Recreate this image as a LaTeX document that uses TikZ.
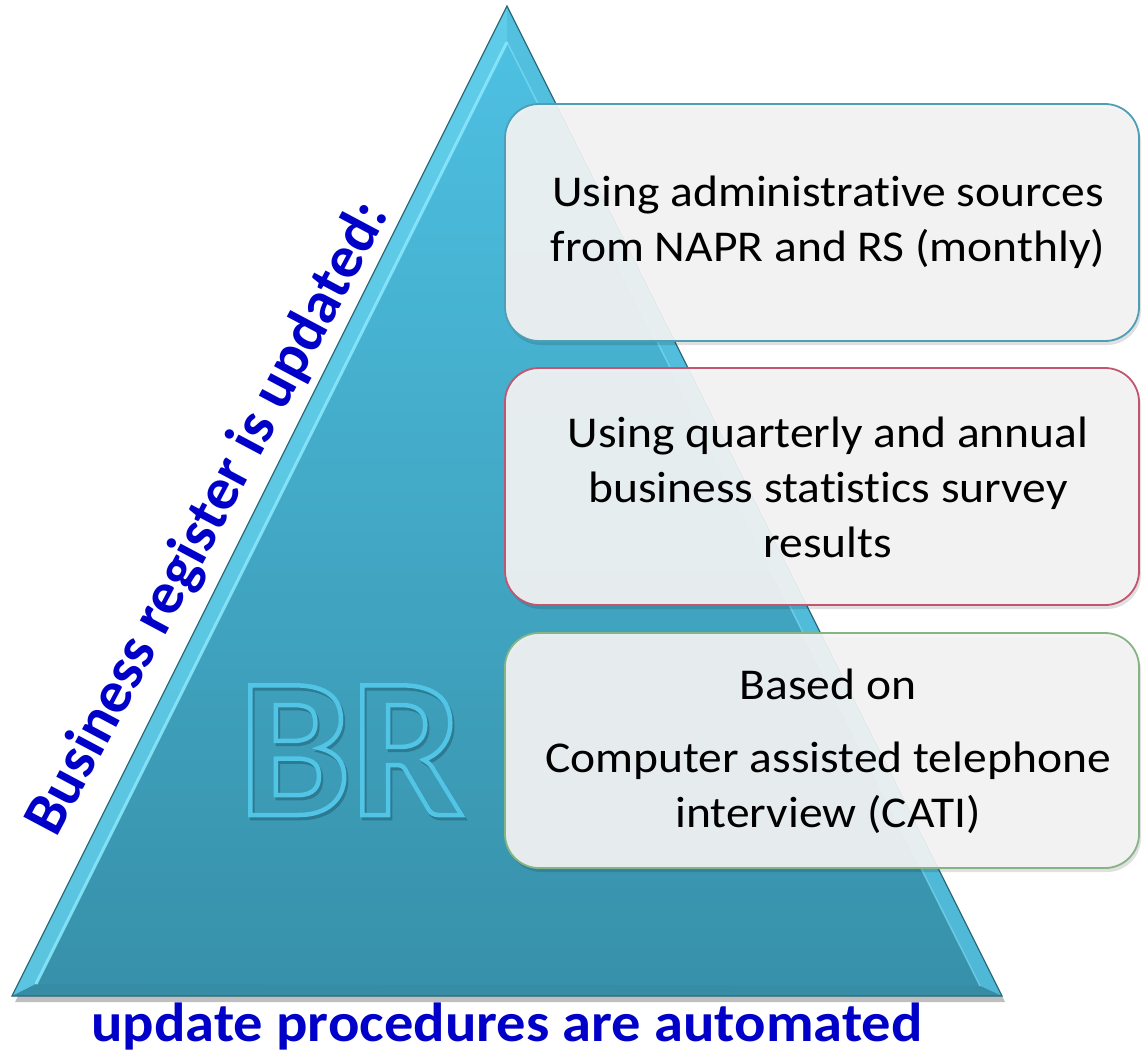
\documentclass[tikz,border=0pt]{standalone}
\usepackage{fontspec}
\setmainfont{Carlito}[Ligatures=NoCommon]
\usetikzlibrary{calc}
\definecolor{triTop}{HTML}{4EC2E4}
\definecolor{triBot}{HTML}{3790A9}
\definecolor{bevL}{HTML}{62CEEA}
\definecolor{bevR}{HTML}{55C0DF}
\definecolor{bevB}{HTML}{368CA4}
\definecolor{hiline}{HTML}{8CE8FC}
\definecolor{triEdge}{HTML}{2E6A7A}
\definecolor{brline}{HTML}{52C4E6}
\definecolor{brshadow}{HTML}{23667A}
\definecolor{boxfill}{HTML}{F4F4F4}
\definecolor{bdBlue}{HTML}{4E9EB6}
\definecolor{bdRed}{HTML}{C25670}
\definecolor{bdGreen}{HTML}{86B484}
\definecolor{titleblue}{HTML}{0000C8}
\newcommand{\outlined}[2]{\special{pdf:literal direct #1 w 1 Tr}#2\special{pdf:literal direct 0 Tr}}
\tikzset{
  infobox/.style={rounded corners=34pt, fill=boxfill, fill opacity=0.93, line width=1.8pt},
  boxshadow/.style={rounded corners=34pt, fill=black, fill opacity=0.12},
  boxtext/.style={align=center, text=black, xscale=1.08, font=\fontsize{44}{55}\selectfont},
  bluetitle/.style={text=titleblue, font=\bfseries\fontsize{#1}{#1}\selectfont}
}
\begin{document}
\begin{tikzpicture}[x=1pt,y=-1pt]
\useasboundingbox (0,0) rectangle (1142,1053);
% triangle geometry
\coordinate (A) at (507,6);
\coordinate (L) at (12,996);
\coordinate (R) at (1002,996);
\coordinate (Ai) at (507,42);
\coordinate (Li) at (36,984);
\coordinate (Ri) at (980,986);
% shadow
\fill[black, opacity=0.25] ($(A)+(3,6)$) -- ($(L)+(3,6)$) -- ($(R)+(3,6)$) -- cycle;
% body
\shade[top color=triTop, bottom color=triBot] (A) -- (L) -- (R) -- cycle;
% bevels
\fill[bevL, opacity=0.85] (A) -- (L) -- (Li) -- (Ai) -- cycle;
\fill[bevR, opacity=0.85] (A) -- (R) -- (Ri) -- (Ai) -- cycle;
\fill[bevB, opacity=0.9] (L) -- (R) -- (Ri) -- (Li) -- cycle;
\draw[hiline, line width=3pt, opacity=0.85] (Li) -- (Ai);
\draw[hiline, line width=1.5pt, opacity=0.5] (Ai) -- (Ri);
\draw[triEdge, line width=1.2pt, line join=miter] (A) -- (L) -- (R) -- cycle;
% BR outlined letters
\node[anchor=base, text=brshadow, opacity=0.6, font=\bfseries\fontsize{200}{200}\selectfont] (brsh) at (353,818) {\outlined{4.5}{BR}};
\node[anchor=base, text=brline, font=\bfseries\fontsize{200}{200}\selectfont] (br) at (351,815) {\outlined{4.5}{BR}};
% boxes
\fill[boxshadow] (507,108) rectangle (1141,345);
\draw[infobox, draw=bdBlue] (505,104) rectangle (1139,341);
\node[boxtext] (t1) at (828,222) {Using administrative sources\\from NAPR and RS (monthly)};
\fill[boxshadow] (507,372) rectangle (1141,609);
\draw[infobox, draw=bdRed] (505,368) rectangle (1139,605);
\node[boxtext] (t2) at (828,487) {Using quarterly and annual\\business statistics survey\\results};
\fill[boxshadow] (507,637) rectangle (1141,872);
\draw[infobox, draw=bdGreen] (505,633) rectangle (1139,868);
\node[boxtext] (t3) at (828,751) {Based on\\[18pt]Computer assisted telephone\\interview (CATI)};
% labels
\node[bluetitle=60, rotate=62] (side) at (209,519) {Business register is updated:};
\node[bluetitle=55, anchor=base, xscale=1.065] (bottom) at (507,1041) {update procedures are automated};
\end{tikzpicture}
\end{document}
